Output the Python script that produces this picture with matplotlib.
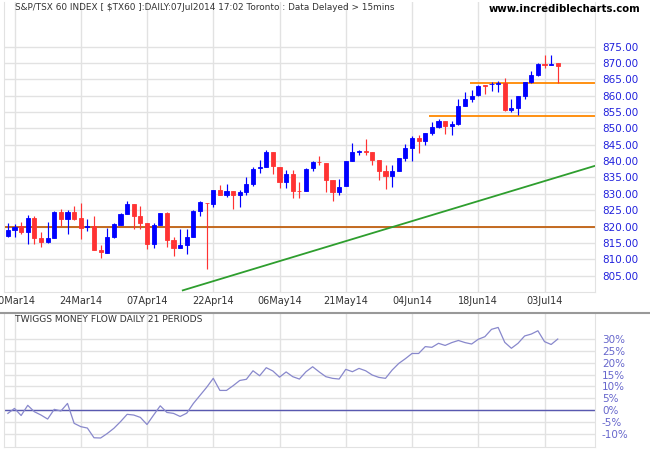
import matplotlib
matplotlib.use("Agg")
import matplotlib.pyplot as plt
import numpy as np
import pandas as pd

# ---------------- data ----------------
holidays = ["2014-04-18", "2014-05-19", "2014-07-01"]
dates = pd.bdate_range("2014-03-07", "2014-07-07")
dates = dates[~dates.isin(pd.to_datetime(holidays))]

opens = [817.2, 819.0, 820.1, 818.4, 822.6, 816.5, 815.4, 816.5, 824.4, 822.4,
         824.4, 822.5, 819.9, 820.1, 812.9, 812.0, 816.8, 820.6, 823.7, 827.0,
         823.2, 821.2, 814.8, 820.6, 824.0, 816.0, 813.3, 814.5, 816.7, 824.7,
         827.3, 827.0, 831.3, 829.5, 831.0, 829.6, 830.6, 832.9, 837.9, 838.2,
         842.9, 838.3, 833.5, 835.9, 831.0, 830.9, 837.8, 839.8, 839.4, 834.2,
         830.6, 832.4, 840.1, 842.9, 843.0, 842.9, 840.3, 837.1, 835.5, 837.1,
         840.9, 844.0, 847.0, 846.2, 848.5, 850.5, 852.1, 850.8, 851.3, 856.9,
         859.0, 860.1, 863.1, 863.4, 863.7, 863.8, 855.5, 856.2, 860.0, 864.2,
         866.2, 869.7, 869.5, 869.9]
highs = [821.1, 820.8, 821.5, 823.6, 823.3, 818.3, 821.4, 824.8, 825.3, 825.0,
         826.2, 827.2, 822.3, 823.2, 814.4, 819.5, 821.0, 824.2, 827.9, 827.0,
         826.2, 821.2, 821.2, 824.0, 824.3, 816.7, 819.1, 819.4, 824.9, 827.9,
         827.3, 831.3, 832.8, 833.0, 831.0, 831.1, 835.0, 838.3, 840.3, 843.3,
         842.9, 838.3, 837.2, 837.2, 833.5, 838.0, 840.1, 841.4, 839.4, 834.2,
         834.5, 840.0, 845.4, 843.4, 846.7, 842.9, 840.3, 838.8, 838.8, 840.9,
         845.2, 847.7, 847.9, 848.5, 852.0, 852.8, 852.1, 852.1, 858.9, 861.2,
         861.6, 863.2, 863.3, 864.3, 864.6, 865.3, 858.9, 860.0, 864.2, 867.4,
         870.1, 872.5, 872.3, 869.9]
lows = [816.7, 816.9, 817.7, 814.7, 814.7, 813.9, 815.0, 816.4, 820.1, 817.8,
        821.9, 816.2, 818.7, 812.7, 810.3, 812.0, 816.5, 820.6, 823.7, 819.4,
        819.1, 813.0, 813.3, 820.6, 813.7, 811.0, 813.3, 811.5, 816.7, 823.2,
        806.9, 825.9, 829.5, 829.0, 825.5, 826.0, 829.6, 832.4, 836.5, 838.2,
        836.0, 831.7, 831.7, 828.7, 828.7, 830.9, 837.0, 838.8, 830.6, 827.9,
        829.6, 832.4, 840.1, 841.9, 841.9, 838.9, 834.3, 831.5, 832.2, 837.1,
        840.1, 840.1, 842.6, 845.0, 848.0, 850.1, 848.4, 848.0, 851.1, 856.9,
        857.9, 860.0, 860.6, 861.3, 861.0, 855.2, 854.9, 854.2, 858.9, 864.0,
        865.9, 868.3, 869.2, 864.0]
closes = [818.9, 819.9, 818.4, 822.6, 816.5, 815.4, 816.5, 824.5, 822.4, 824.4,
          822.4, 819.7, 820.1, 812.9, 812.1, 816.8, 820.7, 823.7, 827.0, 823.2,
          821.1, 814.8, 820.6, 824.0, 816.0, 813.3, 814.5, 816.7, 824.7, 827.4,
          827.1, 831.3, 829.5, 831.0, 829.5, 830.4, 832.9, 837.7, 838.1, 842.9,
          838.5, 833.5, 835.9, 830.9, 830.8, 837.7, 839.8, 839.6, 834.3, 830.6,
          832.2, 840.0, 842.8, 843.1, 842.9, 840.3, 837.1, 835.5, 837.1, 840.9,
          844.0, 847.0, 846.2, 848.5, 850.5, 852.3, 850.8, 851.3, 856.8, 859.0,
          859.8, 863.0, 862.9, 863.6, 863.9, 855.5, 856.2, 860.0, 864.2, 866.2,
          869.7, 869.5, 869.7, 868.9]

tmf = [-1.4, 0.7, -2.3, 2.0, -0.7, -2.1, -3.8, 0.3, -0.4, 2.8,
       -5.6, -7.0, -7.6, -11.7, -11.8, -9.9, -7.7, -4.9, -1.8, -2.1,
       -3.1, -6.1, -2.1, 1.8, -1.0, -1.4, -2.7, -1.3, 2.8, 6.2,
       9.6, 13.4, 8.3, 8.3, 10.3, 12.5, 13.0, 16.6, 14.5, 17.9,
       16.5, 13.9, 16.1, 14.1, 13.1, 16.2, 18.3, 16.1, 14.1, 13.4,
       13.1, 17.2, 16.2, 17.6, 16.6, 14.8, 13.8, 13.4, 16.9, 19.7,
       21.7, 23.9, 23.9, 26.8, 26.5, 28.2, 27.3, 28.5, 29.4, 28.5,
       27.9, 29.9, 31.0, 34.1, 34.9, 28.6, 26.1, 28.2, 31.3, 32.1,
       33.5, 28.9, 27.7, 30.0]

support_level = 820.0
resist_levels = [863.9, 853.9]
resist_starts = [69.7, 63.6]
trend_x = [26.4, 88.7]
trend_y = [800.5, 838.6]

price_ticks = list(range(805, 880, 5))
tmf_ticks = list(range(-10, 35, 5))
tick_idx = list(range(1, len(dates), 10))

title = "S&P/TSX 60 INDEX [ $TX60 ]:DAILY:07Jul2014 17:02 Toronto : Data Delayed > 15mins"
site = "www.incrediblecharts.com"
lower_title = "TWIGGS MONEY FLOW DAILY 21 PERIODS"

# ---------------- figure ----------------
W, H = 650, 450
fig = plt.figure(figsize=(6.5, 4.5), dpi=100)
fig.patch.set_facecolor("white")

def px_axes(left, top, right, bottom):
    return fig.add_axes([left / W, 1 - bottom / H, (right - left) / W, (bottom - top) / H])

grid_c = "#e2e2e2"
x = np.arange(len(dates))
xlim = (-0.585, 88.62)

ax = px_axes(4, 2, 595, 292)
ax.set_xlim(*xlim)
ax.set_ylim(800.0, 888.6)

o = np.array(opens); c = np.array(closes)
hi = np.array(highs); lo = np.array(lows)
up = c >= o
cols = np.where(up, "#0000FF", "#FF3333")

ax.vlines(x, lo, hi, colors=cols, linewidth=0.85, zorder=3)
ax.bar(x, np.abs(c - o), bottom=np.minimum(o, c), width=0.62, color=cols,
       edgecolor=cols, linewidth=0.6, zorder=4)

ax.axhline(support_level, color="#C06010", linewidth=1.3, zorder=2)
for lvl, st in zip(resist_levels, resist_starts):
    ax.hlines(lvl, st, xlim[1], color="#FF8800", linewidth=1.3, zorder=2)
ax.plot(trend_x, trend_y, color="#2E9E2E", linewidth=1.3, zorder=2)

ax.set_yticks(price_ticks)
ax.set_yticklabels([f"{v:.2f}" for v in price_ticks])
ax.yaxis.tick_right()
ax.set_xticks(tick_idx)
ax.set_xticklabels([dates[i].strftime("%d%b%y") for i in tick_idx])
ax.grid(True, color=grid_c, linewidth=1.0, zorder=0)
ax.set_axisbelow(True)
ax.tick_params(axis="y", length=0, pad=5, labelsize=7.5, labelcolor="#2222DD")
ax.tick_params(axis="x", length=0, pad=3, labelsize=7, labelcolor="#333333")
for s in ax.spines.values():
    s.set_color(grid_c)
ax.spines["top"].set_visible(False)

# lower panel
ax2 = px_axes(4, 313, 595, 447)
ax2.set_xlim(*xlim)
ax2.set_ylim(-15.6, 41.0)
ax2.plot(x, tmf, color="#8888CC", linewidth=0.9, zorder=3)
ax2.axhline(0, color="#5858B0", linewidth=1.0, zorder=2)
ax2.set_yticks(tmf_ticks)
ax2.set_yticklabels([f"{v}%" for v in tmf_ticks])
ax2.yaxis.tick_right()
ax2.set_xticks(tick_idx)
ax2.set_xticklabels([])
ax2.grid(True, color=grid_c, linewidth=1.0, zorder=0)
ax2.set_axisbelow(True)
ax2.tick_params(axis="y", length=0, pad=5, labelsize=7.5, labelcolor="#6666CC")
ax2.tick_params(axis="x", length=0)
for s in ax2.spines.values():
    s.set_color(grid_c)
ax2.spines["top"].set_visible(False)
ax2.text(15 / W, 1 - 320 / H, lower_title, transform=fig.transFigure,
         fontsize=6.6, color="#333333", va="center", ha="left")

# separator line
fig.add_artist(plt.Line2D([0, 1], [1 - 313 / H, 1 - 313 / H], transform=fig.transFigure,
                          color="#999999", linewidth=1.5))

fig.text(15 / W, 1 - 8 / H, title, fontsize=6.4, color="#333333", va="center", ha="left")
fig.text(640 / W, 1 - 9 / H, site, fontsize=7.3, fontweight="bold", color="black",
         va="center", ha="right")

fig.savefig("out.png", dpi=100, facecolor="white")
